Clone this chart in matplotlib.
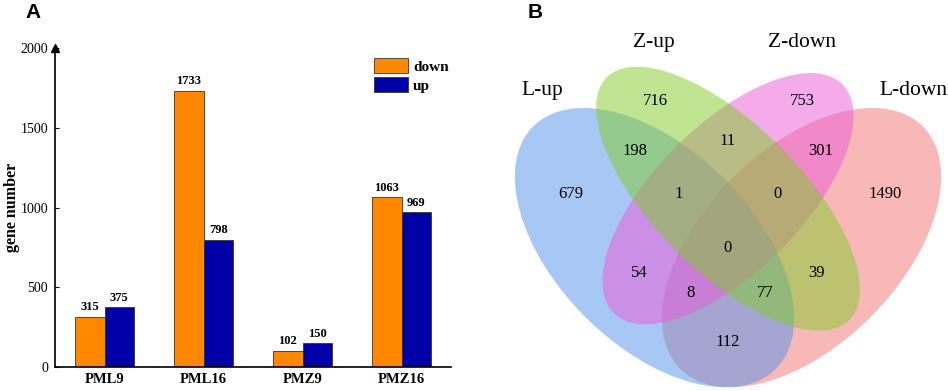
import matplotlib
matplotlib.use("Agg")
import matplotlib.pyplot as plt
from matplotlib.patches import Ellipse, Patch
import numpy as np

plt.rcParams['font.family'] = ['Liberation Serif', 'DejaVu Serif']

# panel A data
groups = ["PML9", "PML16", "PMZ9", "PMZ16"]
down = [315, 1733, 102, 1063]
up = [375, 798, 150, 969]

# panel B data
set_names = ["L-up", "Z-up", "Z-down", "L-down"]
# region counts, keyed by which sets they belong to
region_sets = ["L", "Z", "ZD", "LD",
               "L+Z", "Z+ZD", "ZD+LD",
               "L+Z+ZD", "Z+ZD+LD", "all",
               "L+ZD", "Z+LD",
               "L+ZD+LD", "L+Z+LD", "L+LD"]
region_counts = [679, 716, 753, 1490,
                 198, 11, 301,
                 1, 0, 0,
                 54, 39,
                 8, 77, 112]

fig = plt.figure(figsize=(9.48, 3.91), dpi=100)

#---- panel A: bar chart
ax = fig.add_axes([55/948, 1 - 367/391, 396/948, 319/391])
x = np.arange(len(groups))
w = 0.3
orange = "#ff8800"
navy = "#0000a8"
b1 = ax.bar(x - w/2, down, w, color=orange, edgecolor="#333333", linewidth=0.6, label="down")
b2 = ax.bar(x + w/2, up, w, color=navy, edgecolor="#333333", linewidth=0.6, label="up")
for bars, vals in [(b1, down), (b2, up)]:
    for r, v in zip(bars, vals):
        ax.annotate(str(v), (r.get_x() + r.get_width()/2, v), xytext=(0, 2.5),
                    textcoords="offset points", ha="center", va="bottom",
                    fontsize=9, fontweight="bold")

ax.set_xlim(-0.5, 3.5)
ax.set_ylim(0, 2000)
ax.set_yticks([0, 500, 1000, 1500, 2000])
ax.set_xticks(x)
ax.set_xticklabels(groups, fontsize=10.5, fontweight="bold")
ax.tick_params(axis="x", length=0, pad=4)
ax.tick_params(axis="y", direction="in", length=3, labelsize=10, pad=5)
ax.spines["top"].set_visible(False)
ax.spines["right"].set_visible(False)
ax.spines["left"].set_linewidth(1.2)
ax.spines["bottom"].set_linewidth(1.2)
ax.plot(0, 1, marker="^", color="black", markersize=6, transform=ax.transAxes, clip_on=False)
fig.text(12/948, 1 - 207/391, "gene number", rotation=90, fontsize=11.5, fontweight="bold",
         ha="center", va="center")

ax.legend(handles=[Patch(facecolor=orange, edgecolor="#333333", linewidth=0.6, label="down"),
                   Patch(facecolor=navy, edgecolor="#333333", linewidth=0.6, label="up")],
          loc="upper left", bbox_to_anchor=(374/948, 1 - 58/391), bbox_transform=fig.transFigure,
          frameon=False, borderpad=0, borderaxespad=0, handlelength=2.2, handleheight=1.15,
          labelspacing=0.22, handletextpad=0.35,
          prop={"weight": "bold", "size": 11})

fig.text(25/948, 1 - 3/391, "A", fontsize=15, fontweight="bold", family="Liberation Sans",
         ha="left", va="top")
fig.text(528/948, 1 - 3/391, "B", fontsize=15, fontweight="bold", family="Liberation Sans",
         ha="left", va="top")

#---- panel B: 4-set venn
vx = fig.add_axes([0.5, 0, 0.5, 1])
vx.set_xlim((474 - 483) / 490, (948 - 483) / 490)
vx.set_ylim(86.95 / 490, (391 + 86.95) / 490)
vx.axis("off")

# ellipse layout (x, y, a, b, angle) for L-up, Z-up, Z-down, L-down
shapes = [(0.35, 0.47, 0.35, 0.20, 135),
          (0.50, 0.57, 0.35, 0.15, 135),
          (0.50, 0.57, 0.33, 0.15, 45),
          (0.65, 0.47, 0.35, 0.20, 45)]
fills = ["#5193eb", "#81cd27", "#eb59d7", "#f57373"]
draw_order = [3, 0, 2, 1]
for i in draw_order:
    cx, cy, a, b, ang = shapes[i]
    vx.add_patch(Ellipse((cx, cy), 2*a, 2*b, angle=ang, facecolor=fills[i],
                         alpha=0.5, edgecolor="none"))

label_pos = [(0.180, 0.579), (0.351, 0.769), (0.651, 0.769), (0.820, 0.579),
             (0.310, 0.667), (0.500, 0.688), (0.690, 0.667),
             (0.400, 0.579), (0.600, 0.579), (0.500, 0.469),
             (0.320, 0.418), (0.680, 0.418),
             (0.4245, 0.377), (0.575, 0.377), (0.500, 0.277)]
for (lx, ly), n in zip(label_pos, region_counts):
    vx.text(lx, ly, str(n), ha="center", va="center", fontsize=12)

name_pos = [(0.122, 0.790), (0.349, 0.888), (0.651, 0.888), (0.878, 0.790)]
for (lx, ly), s in zip(name_pos, set_names):
    vx.text(lx, ly, s, ha="center", va="center", fontsize=15.5)

fig.savefig("out.png", dpi=100)
